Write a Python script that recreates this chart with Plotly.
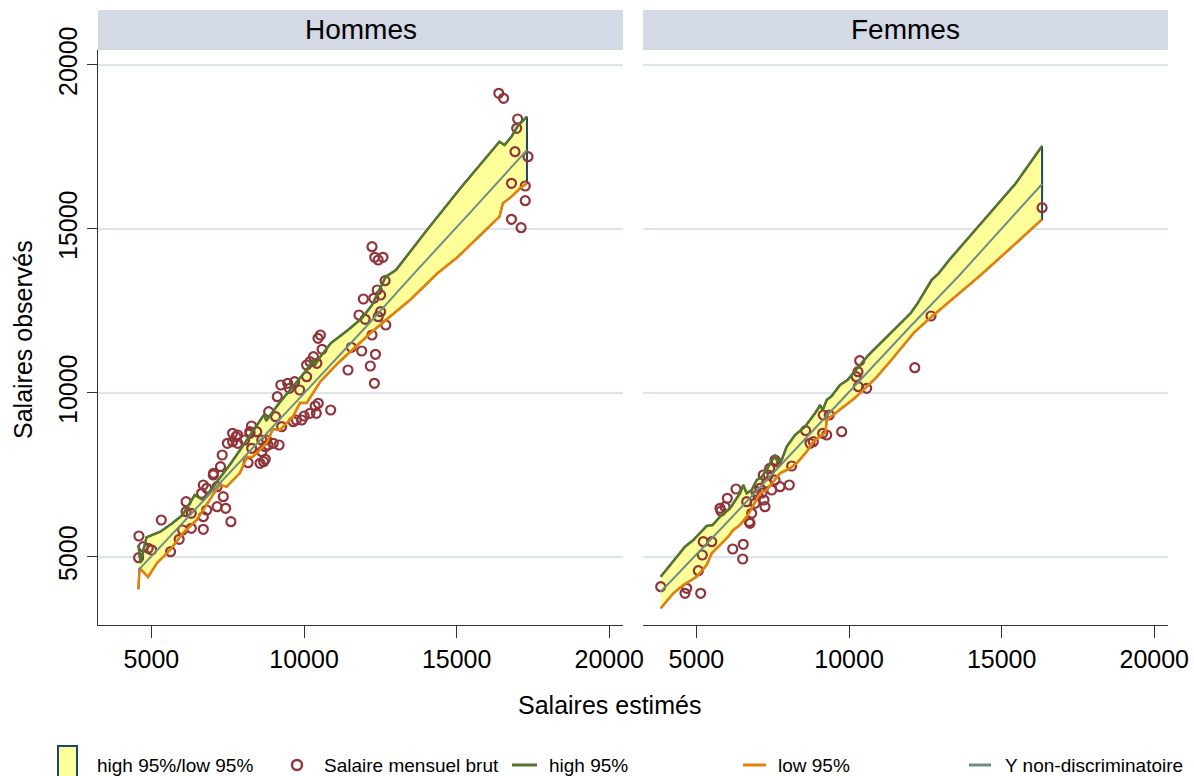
import plotly.graph_objects as go

W, H = 1194, 776


def px(x):
    return x / W


def py(y):
    return 1 - y / H


# ---------------- data : Hommes ----------------
hom_x_high = [4575, 4642, 4839, 5291, 5684, 6021, 6418, 6700, 7148, 7604, 8053, 8505, 8700, 8760,
              9180, 9632, 10084, 10300, 10360, 10536, 10873, 11440, 11889, 12226, 12678, 13012,
              14028, 15162, 16177, 16403, 16570, 16796, 17022, 17304]
hom_high = [5365, 4816, 5600, 5770, 6026, 6279, 6889, 6737, 7295, 7856, 8466, 9076, 9350, 9150,
            9685, 10191, 10701, 11000, 10850, 11106, 11515, 11920, 12277, 12682, 13545, 13750,
            14969, 16289, 17408, 17661, 17561, 17814, 18171, 18424]
hom_x_low = [4575, 4610, 4888, 5183, 5609, 6035, 6483, 6919, 7230, 7466, 7902, 8130, 8328, 8777,
             8980, 9212, 9638, 9870, 10087, 10536, 11099, 12226, 12678, 13471, 14372, 15044,
             15725, 16403, 16515, 16796, 17075, 17304]
hom_low = [4014, 4664, 4389, 4816, 5212, 5731, 6127, 6737, 7200, 7142, 7560, 8050, 8057, 8475,
           8900, 8871, 9277, 9700, 9694, 10350, 10900, 11868, 12225, 12835, 13649, 14155,
           14765, 15375, 15783, 15985, 16241, 16393]
hom_x_ynd = [4575, 6000, 8000, 10000, 12000, 13600, 15500, 17304]
hom_ynd = [4600, 6010, 8000, 9990, 11990, 13640, 15560, 17408]
hom_sal_x = [16380, 16537, 16999, 16967, 16911, 17337, 16796, 17248, 17248, 16796, 17111,
             12226, 12318, 12587, 12429, 12655, 12397, 11944, 12508, 12285, 11800, 12003,
             12508, 12429, 12678, 12226, 11551, 11889, 12341, 10536, 10457, 10592, 11440,
             12171, 12305, 10873, 10365, 10402, 10005, 9746, 9183, 8819, 8616, 8675, 8731,
             8167, 8279, 8842, 9124, 9239, 9691, 10084, 10195, 10421, 9520, 9858, 7827, 7659,
             7489, 7827, 7319, 7037, 7263, 6700, 6644, 7152, 7355, 7152, 7433, 7604, 6811,
             6700, 6136, 6136, 6307, 6021, 6307, 6700, 5910, 5628, 5324, 4590, 4580, 4895,
             5009, 4734, 7659, 7771, 8053, 8223, 8616, 8731, 7027, 6811, 8230, 8449, 8777,
             8993, 9268, 9648, 9923, 10195, 10467, 8285, 8557, 9068, 10310, 10084, 9465]
hom_sal_y = [19137, 18985, 18354, 18070, 17357, 17204, 16393, 16311, 15863, 15295, 15039,
             14460, 14137, 14137, 14054, 13423, 13140, 12865, 12987, 12887, 12377, 12246,
             12478, 12326, 12073, 11768, 11393, 11280, 11179, 11768, 11667, 11332, 10701,
             10823, 10295, 9481, 9603, 9380, 9298, 9176, 8414, 8414, 8210, 7905, 7978,
             7874, 8993, 9429, 9886, 10243, 10344, 10853, 10954, 10905, 10143, 10091, 8719, 8514,
             8466, 8466, 8109, 7551, 7752, 7194, 6941, 7142, 6837, 6533, 6484, 6075, 6432,
             6228, 6685, 6380, 6331, 5822, 5874, 5843, 5539, 5161, 6127, 5639, 4978, 5264,
             5212, 5313, 8771, 8667, 8566, 8819, 8566, 8362, 7499, 7094, 8771, 8819, 8566,
             8466, 8972, 9124, 9176, 9380, 9685, 8313, 7856, 9277, 11106, 10496, 10295]

# ---------------- data : Femmes ----------------
fem_x_high = [3830, 4243, 4626, 4898, 5173, 5337, 5533, 5773, 6100, 6428, 6536, 6647, 6811, 6975,
              7139, 7302, 7466, 7574, 7650, 7794, 7958, 8230, 8557, 8777, 8885, 8993, 9049, 9137,
              9268, 9432, 9704, 9949, 10637, 12017, 12246, 12705, 12937, 13281, 14316, 15463, 16325]
fem_high = [4398, 4856, 5313, 5517, 5770, 5944, 5975, 6228, 6484, 6941, 7194, 6941, 7042, 7347,
            7447, 7652, 7956, 8109, 7905, 7956, 8362, 8719, 8972, 9228, 9380, 9533, 9633, 9481,
            9786, 9908, 10243, 10396, 11158, 12429, 12734, 13445, 13649, 14054, 15173, 16393, 17530]
fem_x_low = [3830, 4243, 4570, 5009, 5337, 5501, 5773, 6044, 6208, 6428, 6647, 6755, 7083, 7302,
             7738, 8066, 8285, 8613, 8829, 9104, 9230, 9268, 10179, 10867, 11329, 12131, 12705,
             14316, 15348, 16325]
fem_low = [3435, 3892, 4145, 4398, 4755, 5112, 5365, 5618, 5822, 5975, 6228, 6380, 6941, 7042,
           7551, 7703, 7856, 8210, 8514, 8719, 8800, 9176, 9838, 10447, 10944, 11844, 12326,
           13597, 14460, 15295]
fem_x_ynd = [3830, 6000, 8000, 10000, 12000, 13625, 16325]
fem_ynd = [3941, 6050, 8040, 10040, 12020, 13597, 16372]
fem_sal_x = [3830, 4626, 4682, 5140, 5062, 5193, 5225, 5501, 6189, 6536, 6516, 5773, 5805, 6012,
             6297, 5936, 6647, 6732, 6755, 6811, 6919, 7083, 7191, 7214, 7247, 7466, 7574, 7738,
             8043, 8121, 7574, 7355, 8580, 8721, 8829, 9137, 9268, 9157, 9353, 9759, 10303,
             10578, 10349, 10293, 10234, 12154, 12685, 16325, 7400, 7620, 7000, 7300, 6950, 7150]
fem_sal_y = [4093, 3892, 4045, 3892, 4581, 5060, 5465, 5465, 5243, 5386, 4938, 6484, 6401, 6789,
             7072, 6533, 6685, 6075, 6026, 6331, 6636, 7094, 7499, 6737, 6533, 7042, 7347, 7142,
             7194, 7774, 7956, 7499, 8850, 8466, 8514, 8771, 8719, 9328, 9328, 8819, 10191,
             10142, 10984, 10649, 10496, 10771, 12347, 15649, 7700, 7900, 6900, 7250, 7000, 6950]

panels = ["Hommes", "Femmes"]
x_ticks = [5000, 10000, 15000, 20000]
y_ticks = [5000, 10000, 15000, 20000]
legend_labels = ["high 95%/low 95%", "Salaire mensuel brut", "high 95%", "low 95%",
                 "Y non-discriminatoire"]

FONT = "Liberation Sans, Arial, sans-serif"
NAVY = "rgb(26,71,111)"
MAROON = "rgb(144,53,59)"
GREEN = "rgb(85,117,47)"
ORANGE = "rgb(232,128,10)"
TEAL = "rgb(110,142,132)"
FILL = "rgb(255,255,153)"
GRID = "rgb(222,228,239)"
STRIP = "rgb(211,217,229)"
AXC = "#333333"

fig = go.Figure()

sets = [
    ("x", "y", hom_x_high, hom_high, hom_x_low, hom_low, hom_x_ynd, hom_ynd, hom_sal_x, hom_sal_y),
    ("x2", "y2", fem_x_high, fem_high, fem_x_low, fem_low, fem_x_ynd, fem_ynd, fem_sal_x, fem_sal_y),
]
for xa, ya, xh, yh, xl, yl, xt, yt, sx, sy in sets:
    fig.add_trace(go.Scatter(x=xh + xl[::-1], y=yh + yl[::-1], mode="lines", fill="toself",
                             fillcolor=FILL, line=dict(color=NAVY, width=2),
                             xaxis=xa, yaxis=ya, showlegend=False, hoverinfo="skip"))
    fig.add_trace(go.Scatter(x=sx, y=sy, mode="markers",
                             marker=dict(symbol="circle-open", size=9, color=MAROON,
                                         line=dict(width=2.2, color=MAROON)),
                             xaxis=xa, yaxis=ya, showlegend=False))
    fig.add_trace(go.Scatter(x=xh, y=yh, mode="lines", line=dict(color=GREEN, width=2.5),
                             xaxis=xa, yaxis=ya, showlegend=False))
    fig.add_trace(go.Scatter(x=xl, y=yl, mode="lines", line=dict(color=ORANGE, width=2.5),
                             xaxis=xa, yaxis=ya, showlegend=False))
    fig.add_trace(go.Scatter(x=xt, y=yt, mode="lines", line=dict(color=TEAL, width=2),
                             xaxis=xa, yaxis=ya, showlegend=False))

xcommon = dict(range=[3250, 20450], showline=True, linecolor=AXC, linewidth=1, ticks="outside",
               ticklen=12, tickwidth=1, tickcolor=AXC, tickvals=x_ticks,
               ticktext=[str(v) for v in x_ticks], tickfont=dict(size=25, color="black"),
               showgrid=False, zeroline=False, automargin=False, fixedrange=True)
ycommon = dict(range=[2926, 20457], domain=[py(625), py(50)], showgrid=True, gridcolor=GRID,
               gridwidth=1.5, tickvals=y_ticks, zeroline=False, automargin=False,
               fixedrange=True)

fig.update_layout(
    template="none",
    width=W, height=H, autosize=False,
    margin=dict(l=0, r=0, t=0, b=0, pad=0, autoexpand=False),
    paper_bgcolor="white", plot_bgcolor="white",
    font=dict(family=FONT, color="black"),
    xaxis=dict(domain=[px(98), px(623)], anchor="y", **xcommon),
    xaxis2=dict(domain=[px(643), px(1168)], anchor="y2", **xcommon),
    yaxis=dict(anchor="x", showline=True, linecolor=AXC, linewidth=1, ticks="outside",
               ticklen=10, tickwidth=1, tickcolor=AXC, tickangle=-90,
               ticktext=[str(v) for v in y_ticks], tickfont=dict(size=25, color="black"),
               **ycommon),
    yaxis2=dict(anchor="x2", matches="y", showline=False, ticks="", showticklabels=False,
                **ycommon),
    showlegend=False,
)

shapes = []
annotations = []
# panel strips
for name, (x0, x1) in zip(panels, [(98, 623), (643, 1168)]):
    shapes.append(dict(type="rect", xref="paper", yref="paper", x0=px(x0), x1=px(x1),
                       y0=py(50), y1=py(10), fillcolor=STRIP, line=dict(width=0), layer="below"))
    annotations.append(dict(text=name, xref="paper", yref="paper", x=px((x0 + x1) / 2),
                            y=py(30), showarrow=False, font=dict(size=28, color="black"),
                            xanchor="center", yanchor="middle"))

# axis titles
annotations.append(dict(text="Salaires estimés", xref="paper", yref="paper", x=px(609),
                        y=py(705), showarrow=False, font=dict(size=25), xanchor="center",
                        yanchor="middle"))
annotations.append(dict(text="Salaires observés", xref="paper", yref="paper", x=px(23),
                        y=py(340), showarrow=False, font=dict(size=25), textangle=-90,
                        xanchor="center", yanchor="middle"))

# legend (drawn manually)
LY = 765
shapes.append(dict(type="rect", xref="paper", yref="paper", x0=px(58), x1=px(77),
                   y0=py(779), y1=py(746), fillcolor=FILL, line=dict(color=NAVY, width=2)))
shapes.append(dict(type="circle", xref="paper", yref="paper", x0=px(292), x1=px(302),
                   y0=py(LY + 5), y1=py(LY - 5), line=dict(color=MAROON, width=2.5)))
for (a, b), col in zip([(512, 537), (743, 766), (969, 991)], [GREEN, ORANGE, TEAL]):
    shapes.append(dict(type="line", xref="paper", yref="paper", x0=px(a), x1=px(b),
                       y0=py(LY), y1=py(LY), line=dict(color=col, width=3)))
for lab, xx in zip(legend_labels, [95, 322, 547, 776, 1003]):
    annotations.append(dict(text=lab, xref="paper", yref="paper", x=px(xx), y=py(LY),
                            showarrow=False, font=dict(size=19), xanchor="left",
                            yanchor="middle"))

fig.update_layout(shapes=shapes, annotations=annotations)
fig.write_html("out.html")
